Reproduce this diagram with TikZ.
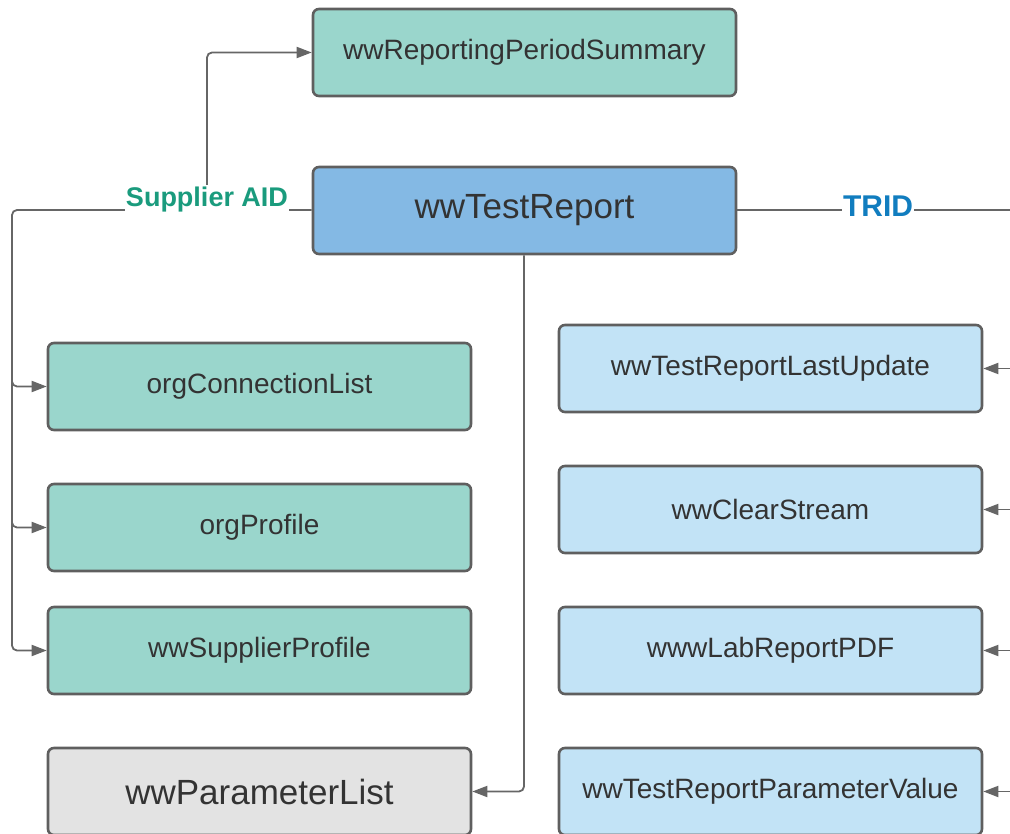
\documentclass[tikz,border=0pt]{standalone}
\usepackage{fontspec}
\setmainfont{Liberation Sans}
\usetikzlibrary{arrows.meta}
\definecolor{teal1}{HTML}{9AD6CC}
\definecolor{blue1}{HTML}{84B9E4}
\definecolor{lblue}{HTML}{C2E3F6}
\definecolor{grey1}{HTML}{E3E3E3}
\definecolor{bord}{HTML}{5F5F5F}
\definecolor{txt}{HTML}{333333}
\definecolor{conn}{HTML}{666666}
\definecolor{lblteal}{HTML}{1A9B7D}
\definecolor{lblblue}{HTML}{117DBF}
\begin{document}
\begin{tikzpicture}[x=1pt,y=-1pt,
  box/.style={draw=bord,line width=2.6pt,rounded corners=6pt,minimum width=423pt,minimum height=87pt,
    inner sep=0pt,text=txt,font=\fontsize{28}{31}\selectfont},
  bigbox/.style={box,font=\fontsize{35}{40}\selectfont},
  conline/.style={draw=conn,line width=1.8pt,rounded corners=5pt},
  arr/.style={conline,-{Triangle[length=15pt,width=11pt]}},
  lbl/.style={fill=white,inner xsep=1pt,inner ysep=2pt,font=\bfseries\fontsize{27}{30}\selectfont}
]
\useasboundingbox (0,0) rectangle (1010,834);
\clip (0,0) rectangle (1010,834);
\node[box,fill=teal1] (rps) at (524.5,52.5) {wwReportingPeriodSummary};
\node[bigbox,fill=blue1] (tr) at (524.5,210.5) {wwTestReport};
\node[box,fill=teal1] (ocl) at (259.5,386.5) {orgConnectionList};
\node[box,fill=teal1] (op) at (259.5,527.5) {orgProfile};
\node[box,fill=teal1] (wsp) at (259.5,650.5) {wwSupplierProfile};
\node[bigbox,fill=grey1] (wpl) at (259.5,791.5) {wwParameterList};
\node[box,fill=lblue] (trlu) at (770.5,368.5) {wwTestReportLastUpdate};
\node[box,fill=lblue] (wcs) at (770.5,509.5) {wwClearStream};
\node[box,fill=lblue] (wlr) at (770.5,650.5) {wwwLabReportPDF};
\node[box,fill=lblue] (trpv) at (770.5,791.5) {wwTestReportParameterValue};
% free-end coordinates
\coordinate (lx) at (12,210);
\coordinate (sj) at (207,210);
\coordinate (re) at (1012,210);
\coordinate (r1) at (1012,368.5);
\coordinate (r2) at (1012,509.5);
\coordinate (r3) at (1012,650.5);
\coordinate (r4) at (1012,791.5);
% Supplier AID connectors
\draw[conline] (tr.west |- 0,210) -- (lx) -- (12,640);
\draw[arr] (12,375) -- (12,386.5) -- (ocl.west);
\draw[arr] (12,515) -- (12,527.5) -- (op.west);
\draw[arr] (12,630) -- (12,650.5) -- (wsp.west);
\draw[arr] (sj) -- (207,52.5) -- (rps.west);
\node[lbl,text=lblteal] (sa) at (207,200) {Supplier AID};
% TRID connectors
\draw[conline] (tr.east |- 0,210) -- (re);
\node[lbl,text=lblblue,font=\bfseries\fontsize{30}{34}\selectfont] (trid) at (878,206) {TRID};
\draw[arr] (r1) -- (trlu.east);
\draw[arr] (r2) -- (wcs.east);
\draw[arr] (r3) -- (wlr.east);
\draw[arr] (r4) -- (trpv.east);
% parameter list
\draw[arr] (tr.south -| 524,0) -- (524,791.5) -- (wpl.east);
\end{tikzpicture}
\end{document}
